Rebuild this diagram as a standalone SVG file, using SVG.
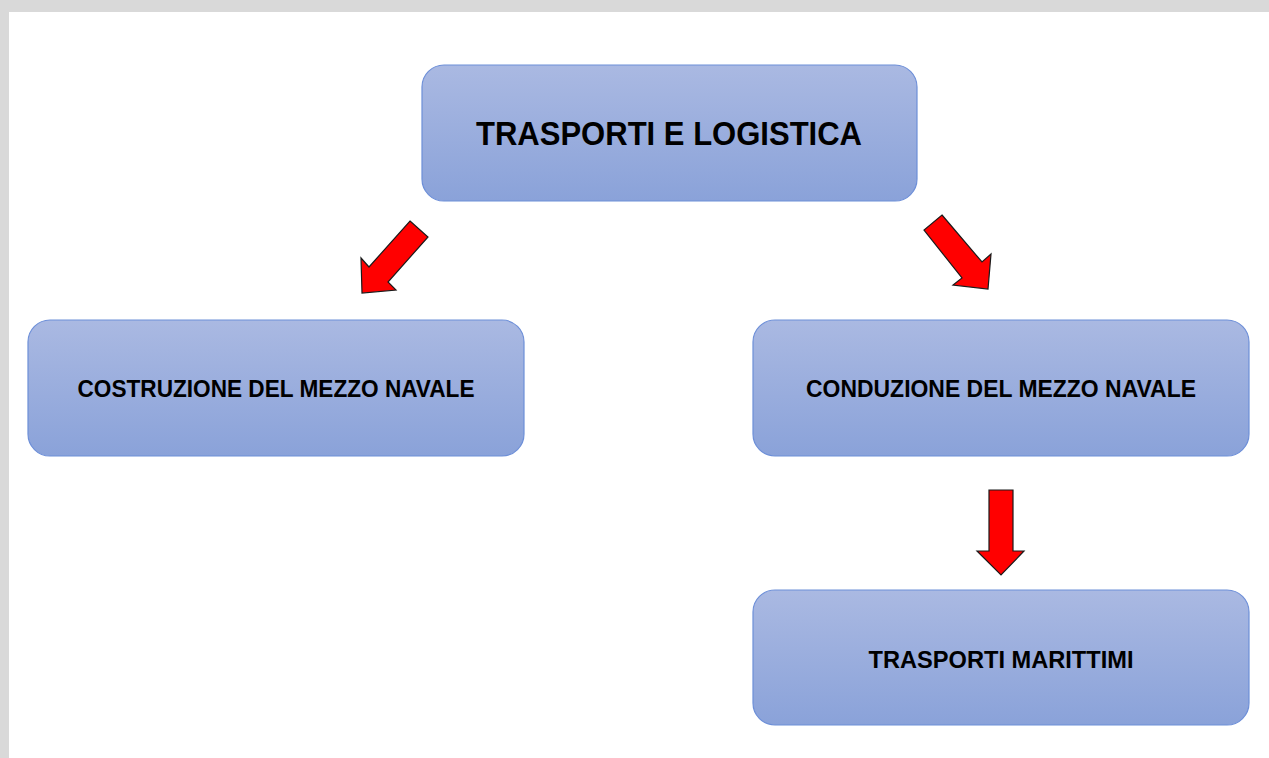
<svg xmlns="http://www.w3.org/2000/svg" width="1269" height="758" viewBox="0 0 1269 758">
<defs>
<linearGradient id="g" x1="0" y1="0" x2="0" y2="1">
<stop offset="0" stop-color="#aab9e2"/>
<stop offset="1" stop-color="#8aa2d9"/>
</linearGradient>
<style>
.box{fill:url(#g);stroke:#6d8fd8;stroke-width:1.2}
.t{font-family:"Liberation Sans",Arial,sans-serif;font-weight:bold;fill:#000;text-anchor:middle}
.arr{fill:#ff0000;stroke:#1a1a1a;stroke-width:1.2;stroke-linejoin:miter}
</style>
</defs>
<rect x="0" y="0" width="1269" height="758" fill="#d9d9d9"/>
<rect x="9" y="12" width="1260" height="746" fill="#ffffff"/>
<g id="node-trasporti-logistica">
<rect class="box" x="422" y="65" width="495" height="136" rx="22"/>
<text class="t" x="669" y="145" font-size="34" textLength="386" lengthAdjust="spacingAndGlyphs">TRASPORTI E LOGISTICA</text>
</g>
<g id="node-costruzione">
<rect class="box" x="28" y="320" width="496" height="136" rx="22"/>
<text class="t" x="276" y="397" font-size="23" textLength="397" lengthAdjust="spacingAndGlyphs">COSTRUZIONE DEL MEZZO NAVALE</text>
</g>
<g id="node-conduzione">
<rect class="box" x="753" y="320" width="496" height="136" rx="22"/>
<text class="t" x="1001" y="397" font-size="23" textLength="390" lengthAdjust="spacingAndGlyphs">CONDUZIONE DEL MEZZO NAVALE</text>
</g>
<g id="node-trasporti-marittimi">
<rect class="box" x="753" y="590" width="496" height="135" rx="22"/>
<text class="t" x="1001" y="668" font-size="23" textLength="265" lengthAdjust="spacingAndGlyphs">TRASPORTI MARITTIMI</text>
</g>
<g id="connectors">
<polygon class="arr" points="410,221 428,237 388,282 396,290 362,293 361,258 369,267"/>
<polygon class="arr" points="942,215 982,262 991,254 988,289 953,285 962,278 924,230"/>
<polygon class="arr" points="989,490 1013,490 1013,551 1024,551 1001,575 977,551 989,551"/>
</g>
</svg>
